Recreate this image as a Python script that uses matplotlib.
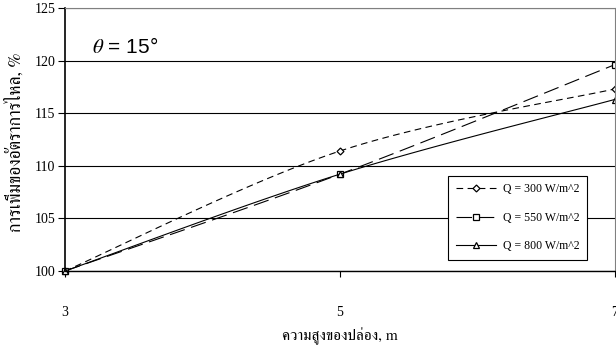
import numpy as np
import matplotlib
matplotlib.use("Agg")
import matplotlib.pyplot as plt

plt.rcParams['font.family'] = ['Liberation Serif', 'FreeSerif']
plt.rcParams['mathtext.fontset'] = 'stix'
thai = ['Norasi', 'Kinnari', 'FreeSerif']

# ความสูงของปล่อง (m) และการเพิ่มของอัตราการไหล (%)
height = [3, 5, 7]
q300 = [100.0, 111.4, 117.3]
q550 = [100.0, 109.2, 119.6]
q800 = [100.0, 109.2, 116.3]
labels = ['Q = 300 W/m^2', 'Q = 550 W/m^2', 'Q = 800 W/m^2']


def smooth(x, y, n=40):
    # เส้นโค้งแบบ Bezier (เหมือน smoothed line ของ Excel)
    x = np.asarray(x, float)
    y = np.asarray(y, float)
    px = np.concatenate([[x[0]], x, [x[-1]]])
    py = np.concatenate([[y[0]], y, [y[-1]]])
    xs, ys = [], []
    t = np.linspace(0, 1, n)
    for i in range(len(x) - 1):
        p0 = np.array([x[i], y[i]])
        p3 = np.array([x[i + 1], y[i + 1]])
        p1 = p0 + (np.array([px[i + 2], py[i + 2]]) - np.array([px[i], py[i]])) / 6
        p2 = p3 - (np.array([px[i + 3], py[i + 3]]) - np.array([px[i + 1], py[i + 1]])) / 6
        b = ((1 - t) ** 3)[:, None] * p0 + (3 * (1 - t) ** 2 * t)[:, None] * p1 \
            + (3 * (1 - t) * t ** 2)[:, None] * p2 + (t ** 3)[:, None] * p3
        xs.extend(b[:, 0])
        ys.extend(b[:, 1])
    return xs, ys


fig = plt.figure(figsize=(6.16, 3.51), dpi=100)
ax = fig.add_axes([65 / 616, 80 / 351, 549.5 / 616, 263 / 351])

series = [
    (q300, (0, (6, 4)), 'D', 3.5),
    (q550, (0, (14, 6)), 's', 4),
    (q800, '-', '^', 4),
]
for (vals, ls, mk, ms), lab in zip(series, labels):
    sx, sy = smooth(height, vals)
    ax.plot(sx, sy, color='black', linestyle=ls, linewidth=0.8)
    ax.plot(height, vals, linestyle='none', marker=mk, markersize=ms,
            markerfacecolor='white', markeredgecolor='black', markeredgewidth=0.9,
            clip_on=False)
    # รายการใน legend
    ax.plot([], [], color='black', linestyle=ls, linewidth=0.8, marker=mk,
            markersize=ms, markerfacecolor='white', markeredgecolor='black',
            markeredgewidth=0.9, label=lab)

ax.set_xlim(3, 7)
ax.set_ylim(100, 125)
ax.set_xticks([3, 5, 7])
ax.set_yticks([100, 105, 110, 115, 120, 125])
ax.yaxis.grid(True, color='black', linewidth=0.8)
ax.set_axisbelow(True)
ax.tick_params(axis='y', direction='out', length=5, width=0.8, labelsize=10, pad=2)
ax.tick_params(axis='x', direction='out', length=4, width=0.8, labelsize=10, pad=21)

ax.spines['left'].set_linewidth(1.2)
ax.spines['bottom'].set_linewidth(1.0)
ax.spines['top'].set_color('#808080')
ax.spines['right'].set_color('#808080')

ax.set_xlabel('ความสูงของปล่อง, m', fontsize=11, family=thai, va='center')
ax.xaxis.set_label_coords(0.5, -65 / 263)
ax.set_ylabel('การเพิ่มของอัตราการไหล, %', fontsize=12.7, family=thai, va='center')
ax.yaxis.set_label_coords(-50 / 550, 0.49)

ax.text(0.05, 0.83, r'$\theta$ = 15°', transform=ax.transAxes, fontsize=15,
        family=['Liberation Sans Narrow', 'Liberation Sans'])

leg = ax.legend(loc='upper left', bbox_to_anchor=(0.697, 0.363), fontsize=8.5,
                frameon=True, fancybox=False, edgecolor='black', framealpha=1,
                handlelength=3.4, handletextpad=0.6, labelspacing=1.4,
                borderpad=0.65, borderaxespad=0)
leg.get_frame().set_linewidth(0.8)

fig.savefig('out.png', dpi=100)
